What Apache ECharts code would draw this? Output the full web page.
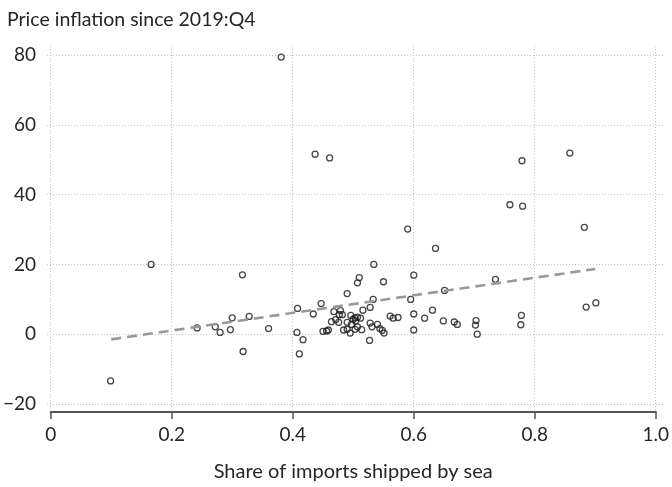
<!DOCTYPE html>
<html>
<head>
<meta charset="utf-8">
<script src="https://cdn.jsdelivr.net/npm/echarts@6/dist/echarts.min.js"></script>
<style>
html,body{margin:0;padding:0;background:#fff;}
#chart{width:672px;height:487px;}
</style>
</head>
<body>
<div id="chart"></div>
<script>
const titleText = 'Price inflation since 2019:Q4';
const xAxisName = 'Share of imports shipped by sea';

const shareBySea = [
  0.099, 0.166, 0.242, 0.272, 0.280, 0.297, 0.300, 0.317, 0.318, 0.328, 0.360, 0.381,
  0.407, 0.408, 0.411, 0.417, 0.434, 0.437, 0.447, 0.450, 0.456, 0.459, 0.461, 0.464,
  0.468, 0.471, 0.476, 0.477, 0.479, 0.482, 0.484, 0.490, 0.490, 0.490, 0.495, 0.496,
  0.497, 0.500, 0.503, 0.503, 0.504, 0.507, 0.507, 0.507, 0.510, 0.512, 0.514, 0.516,
  0.527, 0.528, 0.528, 0.531, 0.533, 0.534, 0.540, 0.544, 0.548, 0.550, 0.551, 0.561,
  0.566, 0.574, 0.590, 0.595, 0.600, 0.600, 0.600, 0.618, 0.631, 0.636, 0.649, 0.651,
  0.667, 0.672, 0.702, 0.703, 0.705, 0.735, 0.759, 0.777, 0.778, 0.779, 0.780, 0.858,
  0.882, 0.885, 0.901
];
const priceInflation = [
  -14.0, 19.6, 1.3, 1.6, 0.0, 0.8, 4.2, 16.6, -5.5, 4.6, 1.1, 79.4,
  0.0, 6.9, -6.2, -2.1, 5.3, 51.4, 8.3, 0.3, 0.4, 0.7, 50.3, 3.1,
  6.0, 3.7, 2.9, 5.1, 6.3, 5.1, 0.7, 11.2, 0.9, 2.9, -0.2, 4.9,
  2.3, 3.8, 4.2, 0.9, 3.3, 4.4, 1.6, 14.3, 15.8, 4.1, 0.8, 6.4,
  -2.3, 7.2, 2.7, 1.6, 9.5, 19.6, 2.3, 1.1, 0.6, 14.6, -0.2, 4.7,
  4.1, 4.3, 29.8, 9.5, 16.5, 5.3, 0.7, 4.1, 6.4, 24.2, 3.3, 12.1,
  3.0, 2.3, 2.1, 3.4, -0.5, 15.3, 36.8, 2.2, 4.9, 49.5, 36.4, 51.7,
  30.3, 7.3, 8.5
];
const trendX = [0.1, 0.9];
const trendY = [-2.0, 18.3];

const FONT = 'Lato';
const TXT = '#262626';

const chart = echarts.init(document.getElementById('chart'), null, {renderer: 'canvas'});
chart.setOption({
  animation: false,
  backgroundColor: '#ffffff',
  textStyle: {fontFamily: FONT},
  title: {
    text: titleText,
    left: 2, top: 5,
    textStyle: {fontFamily: FONT, fontSize: 19.5, fontWeight: 'normal', color: TXT}
  },
  grid: [
    {left: 50.7, right: 16, top: 46, bottom: 72.7, containLabel: false},
    {left: 40, right: 7, top: 55, bottom: 83, containLabel: false}
  ],
  xAxis: [
    {
      type: 'value', gridIndex: 0, min: 0, max: 1, interval: 0.2,
      name: xAxisName, nameLocation: 'middle', nameGap: 50,
      nameTextStyle: {fontFamily: FONT, fontSize: 20, color: TXT},
      axisLine: {show: true, onZero: false, lineStyle: {color: '#555555', width: 2}},
      axisTick: {show: true, inside: false, length: 7, lineStyle: {color: '#555555', width: 1.5}},
      axisLabel: {
        fontFamily: FONT, fontSize: 19, color: TXT, margin: 13,
        formatter: v => (v === 0 ? '0' : v.toFixed(1))
      },
      splitLine: {show: true, lineStyle: {color: '#c4c4c4', width: 1, type: [1, 2]}}
    },
    {
      type: 'value', gridIndex: 1, min: 0, max: 1, show: false
    }
  ],
  yAxis: [
    {
      type: 'value', gridIndex: 0, min: -22.95, max: 82.58,
      axisLine: {show: false}, axisTick: {show: false}, axisLabel: {show: false},
      splitLine: {show: false}
    },
    {
      type: 'value', gridIndex: 1, min: -20, max: 80, interval: 20,
      axisLine: {show: false}, axisTick: {show: false},
      axisLabel: {
        fontFamily: FONT, fontSize: 19, color: TXT, margin: 11,
        formatter: v => (v < 0 ? '\u2212' + Math.abs(v) : String(v))
      },
      splitLine: {show: true, lineStyle: {color: '#c4c4c4', width: 1, type: [1, 2]}}
    }
  ],
  series: [
    {
      type: 'scatter', xAxisIndex: 0, yAxisIndex: 0,
      data: shareBySea.map((x, i) => [x, priceInflation[i]]),
      symbol: 'circle', symbolSize: 6,
      itemStyle: {color: 'rgba(255,255,255,0)', borderColor: '#1a1a1a', borderWidth: 1.3},
      silent: true, z: 3
    },
    {
      type: 'line', xAxisIndex: 0, yAxisIndex: 0,
      data: trendX.map((x, i) => [x, trendY[i]]),
      symbol: 'none',
      lineStyle: {color: '#999999', width: 2.6, type: [10, 6]},
      silent: true, z: 4
    }
  ]
});
</script>
</body>
</html>
